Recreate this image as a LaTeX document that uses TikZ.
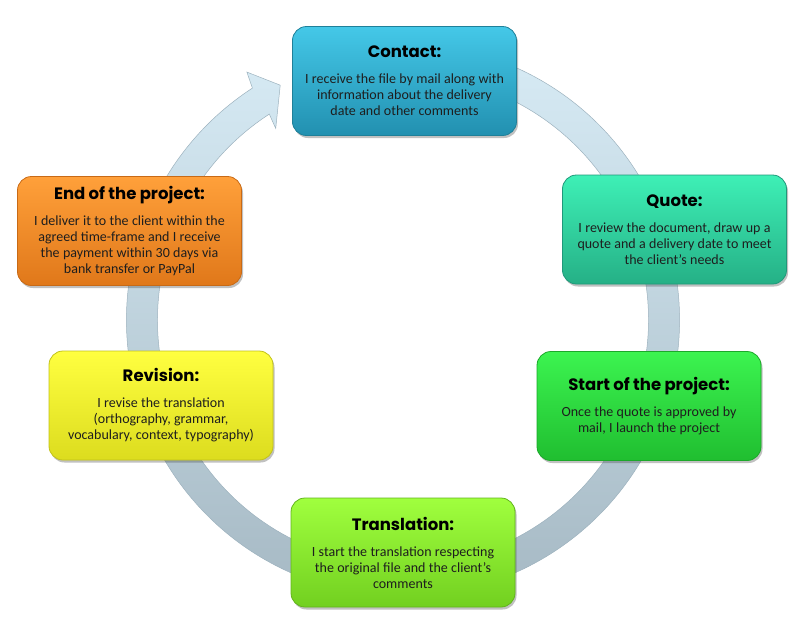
\documentclass[tikz,border=0pt]{standalone}
\usepackage{fontspec}
\setmainfont{Carlito}
\newfontfamily\titlefamily{Poppins}
\usetikzlibrary{shadows}

\definecolor{ringTop}{HTML}{D6EAF4}
\definecolor{ringBot}{HTML}{A3B6C1}
\definecolor{ringEdge}{HTML}{9DB2BE}
\definecolor{contactTop}{HTML}{44C8E8}
\definecolor{contactBot}{HTML}{2290B0}
\definecolor{contactBd}{HTML}{1F8099}
\definecolor{quoteTop}{HTML}{3EF0B6}
\definecolor{quoteBot}{HTML}{25B086}
\definecolor{quoteBd}{HTML}{20987A}
\definecolor{startTop}{HTML}{3CF450}
\definecolor{startBot}{HTML}{20BE30}
\definecolor{startBd}{HTML}{1CA82A}
\definecolor{transTop}{HTML}{A0FF3E}
\definecolor{transBot}{HTML}{72D020}
\definecolor{transBd}{HTML}{62B41C}
\definecolor{revTop}{HTML}{FFFF40}
\definecolor{revBot}{HTML}{DCDC1E}
\definecolor{revBd}{HTML}{C2C21A}
\definecolor{endTop}{HTML}{FFA03A}
\definecolor{endBot}{HTML}{E0781A}
\definecolor{endBd}{HTML}{C86A16}
\definecolor{bodyText}{HTML}{1E1E1E}

\newcommand{\titlef}{\titlefamily\bfseries\fontsize{16.5}{19}\selectfont}
\newcommand{\bodyf}{\fontsize{14}{16}\selectfont\color{bodyText}}
\newcommand{\stagetext}[2]{{\titlef #1\par}\vspace{10pt}{\bodyf #2\par}}

\tikzset{
  stage/.style={rounded corners=14pt, minimum width=224pt, minimum height=109pt,
    text width=218pt, align=center, inner sep=0pt,
    draw=#1Bd, line width=0.8pt, top color=#1Top, bottom color=#1Bot,
    drop shadow={shadow xshift=1.5pt, shadow yshift=-2.5pt, opacity=0.35, fill=black!70}},
  ring/.style={top color=ringTop, bottom color=ringBot, draw=ringEdge, line width=0.5pt}
}

\begin{document}
\begin{tikzpicture}[x=1pt, y=-1pt]
\useasboundingbox (0,0) rectangle (807,635);

\begin{scope}[shift={(403,320)}, yscale=-1]
  \path[ring] (70:276.5) arc[start angle=70, end angle=-237, radius=276.5]
    -- (122.2:293) -- (117.6:265) -- (123.6:230) -- (123:245.5)
    arc[start angle=123, end angle=430, radius=245.5] -- cycle;
\end{scope}

\node[stage=contact] (contact) at (404.5,81) {\stagetext{Contact:}{I receive the file by mail along with\\information about the delivery\\date and other comments}};
\node[stage=quote] (quote) at (674.5,229.5) {\stagetext{Quote:}{I review the document, draw up a\\quote and a delivery date to meet\\the client's needs}};
\node[stage=start] (start) at (649,406) {\stagetext{Start of the project:}{Once the quote is approved by\\mail, I launch the project}};
\node[stage=trans] (translation) at (403,552.5) {\stagetext{Translation:}{I start the translation respecting\\the original file and the client's\\comments}};
\node[stage=rev] (revision) at (161,405.5) {\stagetext{Revision:}{I revise the translation\\(orthography, grammar,\\vocabulary, context, typography)}};
\node[stage=end] (end) at (129.5,231) {\stagetext{End of the project:}{I deliver it to the client within the\\agreed time-frame and I receive\\the payment within 30 days via\\bank transfer or PayPal}};
\end{tikzpicture}
\end{document}
